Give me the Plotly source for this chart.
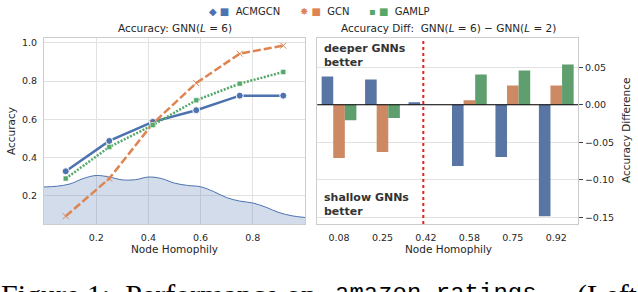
import plotly.graph_objects as go

# ---------------- data ----------------
homophily_x = [0.0833, 0.25, 0.4167, 0.5833, 0.75, 0.9167]
series_names = ["ACMGCN", "GCN", "GAMLP"]
acc_acmgcn = [0.328, 0.487, 0.587, 0.648, 0.724, 0.724]
acc_gcn = [0.093, 0.29, 0.578, 0.79, 0.944, 0.986]
acc_gamlp = [0.29, 0.455, 0.57, 0.70, 0.787, 0.848]

kde_x = [0.0, 0.05, 0.1, 0.15, 0.2, 0.25, 0.3, 0.35, 0.4, 0.45, 0.5, 0.55, 0.6, 0.65, 0.7, 0.75, 0.8, 0.85, 0.9, 0.95, 1.0]
kde_y = [0.246, 0.25, 0.262, 0.29, 0.306, 0.298, 0.283, 0.284, 0.298, 0.29, 0.266, 0.254, 0.247, 0.222, 0.19, 0.172, 0.162, 0.14, 0.112, 0.095, 0.086]

bin_labels = ["0.08", "0.25", "0.42", "0.58", "0.75", "0.92"]
diff_acmgcn = [0.0376, 0.0336, 0.0035, -0.0816, -0.0697, -0.1485]
diff_gcn = [-0.071, -0.063, 0.0, 0.006, 0.0257, 0.0257]
diff_gamlp = [-0.0205, -0.0178, 0.0, 0.0403, 0.0456, 0.0536]
threshold_pos = 1.94

line_colors = ["#4c72b0", "#dd8452", "#55a868"]
bar_colors = ["#5975a4", "#cc8963", "#5f9e6e"]

W, H = 638, 292
ML, MR, MT, MB = 44, 60, 38, 68
PW = W - ML - MR
PH = H - MT - MB


def px2x(px):
    return (px - ML) / PW


def py2y(py):
    return (H - MB - py) / PH


fig = go.Figure()

# KDE area
fig.add_trace(go.Scatter(x=kde_x, y=kde_y, mode="lines", line=dict(color="#4c72b0", width=1, shape="spline"),
                         fill="tozeroy", fillcolor="rgba(76,114,176,0.25)", xaxis="x", yaxis="y", showlegend=False))

fig.add_trace(go.Scatter(x=homophily_x, y=acc_acmgcn, mode="lines+markers", name="ACMGCN",
                         line=dict(color=line_colors[0], width=2.5),
                         marker=dict(symbol="circle", size=7, color=line_colors[0], line=dict(color="white", width=1)),
                         xaxis="x", yaxis="y", showlegend=False))
fig.add_trace(go.Scatter(x=homophily_x, y=acc_gcn, mode="lines+markers", name="GCN",
                         line=dict(color=line_colors[1], width=2.5, dash="8px,3px"),
                         marker=dict(symbol="x-thin", size=6, color=line_colors[1], line=dict(color=line_colors[1], width=1)),
                         xaxis="x", yaxis="y", showlegend=False))
fig.add_trace(go.Scatter(x=homophily_x, y=acc_gamlp, mode="lines+markers", name="GAMLP",
                         line=dict(color=line_colors[2], width=2.5, dash="2px,1.5px"),
                         marker=dict(symbol="square", size=5, color=line_colors[2], line=dict(color="white", width=0.5)),
                         xaxis="x", yaxis="y", showlegend=False))

for vals, name, col in zip([diff_acmgcn, diff_gcn, diff_gamlp], series_names, bar_colors):
    fig.add_trace(go.Bar(x=bin_labels, y=vals, name=name, marker=dict(color=col, line=dict(width=0)),
                         xaxis="x2", yaxis="y2", showlegend=False))

axis_font = dict(family="DejaVu Sans", size=9.5, color="#262626")
grid = "#e2e2e2"
border = "#cccccc"
clear = "rgba(0,0,0,0)"

fig.update_layout(
    width=W, height=H,
    margin=dict(l=ML, r=MR, t=MT, b=MB),
    paper_bgcolor="white", plot_bgcolor="white",
    barmode="group", bargap=0.2, bargroupgap=0,
    font=dict(family="DejaVu Sans", color="#262626"),
    xaxis=dict(domain=[0, 261 / PW], range=[0, 1], tickvals=[0.2, 0.4, 0.6, 0.8], ticktext=["0.2", "0.4", "0.6", "0.8"],
               showgrid=True, gridcolor=grid, gridwidth=1.2, zeroline=False,
               showline=True, linecolor=border, linewidth=1, mirror=True,
               ticks="outside", ticklen=5, tickcolor=clear, tickfont=axis_font),
    yaxis=dict(domain=[0, 1], range=[0.052, 1.026], tickvals=[0.2, 0.4, 0.6, 0.8, 1.0], ticktext=["0.2", "0.4", "0.6", "0.8", "1.0"],
               showgrid=True, gridcolor=grid, gridwidth=1.2, zeroline=False,
               showline=True, linecolor=border, linewidth=1, mirror=True,
               ticks="outside", ticklen=4, tickcolor=clear, tickfont=axis_font),
    xaxis2=dict(domain=[273.3 / PW, 1], type="category", range=[-0.5, 5.5], anchor="y2",
                showgrid=False, zeroline=False, showline=True, linecolor=border, linewidth=1, mirror=True,
                ticks="outside", ticklen=5, tickcolor=clear, tickfont=axis_font),
    yaxis2=dict(domain=[0, 1], range=[-0.159, 0.089], anchor="x2", side="right",
                tickvals=[0.05, 0.0, -0.05, -0.10, -0.15], ticktext=["0.05", "0.00", "−0.05", "−0.10", "−0.15"],
                showgrid=True, gridcolor=grid, gridwidth=1.2, zeroline=False,
                showline=True, linecolor=border, linewidth=1, mirror=True,
                ticks="outside", ticklen=4, tickwidth=1.2, tickcolor="#444444", tickfont=axis_font),
)

# zero line & threshold line
fig.add_shape(type="line", xref="x2 domain", yref="y2", x0=0, x1=1, y0=0, y1=0,
              line=dict(color="black", width=1.1), layer="above")
fig.add_shape(type="line", xref="x2", yref="y2 domain", x0=threshold_pos, x1=threshold_pos, y0=0, y1=1,
              line=dict(color="#e8201f", width=2, dash="dot"), layer="above")

ann = []
lab_font = dict(family="DejaVu Sans", size=10.5, color="#262626")
# titles
ann.append(dict(text="Accuracy: GNN(<i>L</i> = 6)", x=px2x(174.5), y=py2y(27.7), xref="paper", yref="paper",
                xanchor="center", yanchor="middle", showarrow=False, font=lab_font))
ann.append(dict(text="Accuracy Diff:  GNN(<i>L</i> = 6) − GNN(<i>L</i> = 2)", x=px2x(448), y=py2y(27.7), xref="paper", yref="paper",
                xanchor="center", yanchor="middle", showarrow=False, font=lab_font))
# axis labels
ann.append(dict(text="Node Homophily", x=px2x(174.5), y=py2y(249), xref="paper", yref="paper",
                xanchor="center", yanchor="middle", showarrow=False, font=lab_font))
ann.append(dict(text="Node Homophily", x=px2x(448), y=py2y(249), xref="paper", yref="paper",
                xanchor="center", yanchor="middle", showarrow=False, font=lab_font))
ann.append(dict(text="Accuracy", x=px2x(11), y=py2y(131), xref="paper", yref="paper", textangle=-90,
                xanchor="center", yanchor="middle", showarrow=False, font=lab_font))
ann.append(dict(text="Accuracy Difference", x=px2x(626), y=py2y(131), xref="paper", yref="paper", textangle=-90,
                xanchor="center", yanchor="middle", showarrow=False, font=lab_font))
# bold annotations
bold_font = dict(family="DejaVu Sans", size=11, color="#333333")
ann.append(dict(text="<b>deeper GNNs<br>better</b>", x=px2x(322), y=py2y(40), xref="paper", yref="paper",
                xanchor="left", yanchor="top", align="left", showarrow=False, font=bold_font))
ann.append(dict(text="<b>shallow GNNs<br>better</b>", x=px2x(322), y=py2y(189), xref="paper", yref="paper",
                xanchor="left", yanchor="top", align="left", showarrow=False, font=bold_font))
# legend
leg_font = dict(family="DejaVu Sans", size=10, color="#262626")
leg_items = [("ACMGCN", "◆", 207), ("GCN", "✸", 298), ("GAMLP", "▪", 367)]
for (name, sym, xpos), col in zip(leg_items, line_colors):
    ann.append(dict(text=f"<span style='color:{col}'>{sym} ■</span>  {name}", x=px2x(xpos), y=py2y(12),
                    xref="paper", yref="paper", xanchor="left", yanchor="middle", showarrow=False, font=leg_font))
# caption (cut off at the bottom of the picture, as in the reference)
cap_font = dict(family="Liberation Serif", size=30, color="black")
ann.append(dict(text="Figure 1:  Performance on", x=px2x(-1), y=py2y(276), xref="paper", yref="paper",
                xanchor="left", yanchor="top", showarrow=False, font=cap_font))
ann.append(dict(text="amazon-ratings.", x=px2x(333), y=py2y(278), xref="paper", yref="paper",
                xanchor="left", yanchor="top", showarrow=False, font=dict(family="Liberation Mono", size=24, color="black")))
ann.append(dict(text="(Left)", x=px2x(575), y=py2y(276), xref="paper", yref="paper",
                xanchor="left", yanchor="top", showarrow=False, font=cap_font))
fig.update_layout(annotations=ann)

fig.write_html("out.html", config={"displayModeBar": False},
               post_script="document.body.style.margin='0';document.body.style.overflow='hidden';")
